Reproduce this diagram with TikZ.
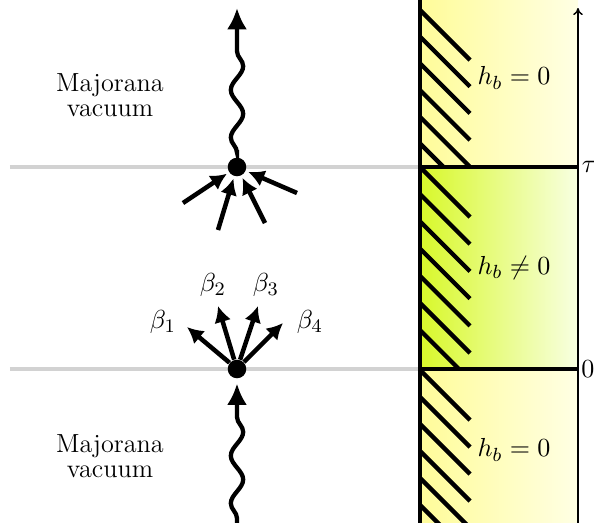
\documentclass[tikz,border=0pt]{standalone}
\usetikzlibrary{calc,arrows.meta,decorations.pathmorphing}
\usepackage{amsmath}
\definecolor{zeroleft}{HTML}{FFFC99}
\definecolor{zeroright}{HTML}{FFFFE4}
\definecolor{fieldleft}{HTML}{D8F82A}
\definecolor{fieldright}{HTML}{F8FFE2}

\begin{document}
\begin{tikzpicture}[x=0.42pt,y=-0.42pt,
  font=\fontsize{11pt}{10.5pt}\selectfont,
  wave/.style={line width=1.8pt, decorate,
    decoration={snake,amplitude=2.6pt,segment length=20pt,pre length=2pt,post length=9pt},
    -{Latex[length=9pt,width=8.5pt]}},
  leg/.style={line width=1.9pt, -{Latex[length=6.8pt,width=7.2pt]}},
  vertex/.style={circle, fill, inner sep=0pt, minimum size=7.8pt},
  timeline/.style={line width=1.3pt, gray!35},
  hatch/.style={line width=1.8pt},
]
  \useasboundingbox (0,0) rectangle (594,523);

  % time slices
  \draw[timeline] (10,167) -- (420,167);
  \draw[timeline] (10,369) -- (420,369);

  % boundary regions
  \shade[left color=zeroleft, right color=zeroright] (420,0) rectangle (578,167);
  \shade[left color=fieldleft, right color=fieldright] (420,167) rectangle (578,369);
  \shade[left color=zeroleft, right color=zeroright] (420,369) rectangle (578,523);

  % hatching
  \begin{scope}
    \clip (420,0) rectangle (578,167);
    \foreach \k in {0,...,5}
      \draw[hatch] (420,{10+26.7*\k}) -- ++(50,50);
  \end{scope}
  \begin{scope}
    \clip (420,167) rectangle (578,369);
    \foreach \k in {0,...,6}
      \draw[hatch] (420,{167+27.2*\k}) -- ++(50,50);
  \end{scope}
  \begin{scope}
    \clip (420,369) rectangle (578,523);
    \foreach \k in {0,...,5}
      \draw[hatch] (420,{370+27*\k}) -- ++(50,50);
  \end{scope}

  % wall and time axis
  \draw[line width=1.8pt] (420,0) -- (420,523);
  \draw[line width=1.5pt] (420,167) -- (578,167);
  \draw[line width=1.5pt] (420,369) -- (578,369);
  \draw[line width=0.6pt, -{To[length=3pt,width=4pt]}] (578,523) -- (578,8);
  \node (tau) at (589,167) {$\tau$};
  \node (zero) at (588,369) {$0$};

  \node (hTop) at (514,78) {$h_b = 0$};
  \node (hMid) at (514,268) {$h_b \neq 0$};
  \node (hBot) at (514,450) {$h_b = 0$};

  % vertices
  \node[vertex] (vT) at (237,167) {};
  \node[vertex] (vB) at (237,369) {};

  % incoming fermion
  \coordinate (inB) at (237,523);
  \draw[wave, shorten >=2pt] (inB) -- (vB);

  \coordinate (b1) at (187,327);
  \coordinate (b2) at (218,306);
  \coordinate (b3) at (258,306);
  \coordinate (b4) at (283,323);
  \foreach \b in {b1,b2,b3,b4}
    \draw[leg] (vB) -- (\b);
  \node (l1) at (163,322) {$\beta_1$};
  \node (l2) at (213,285) {$\beta_2$};
  \node (l3) at (266,285) {$\beta_3$};
  \node (l4) at (310,322) {$\beta_4$};

  % recombination at tau
  \coordinate (a1) at (183,203);
  \coordinate (a2) at (218,230);
  \coordinate (a3) at (265,223);
  \coordinate (a4) at (297,193);
  \foreach \a in {a1,a2,a3,a4}
    \draw[leg, shorten >=1pt] (\a) -- (vT);

  \coordinate (outT) at (237,8);
  \draw[wave, shorten <=3pt] (vT) -- (outT);

  \node[align=center] (vacT) at (110,95) {Majorana\\vacuum};
  \node[align=center] (vacB) at (110,456) {Majorana\\vacuum};
\end{tikzpicture}
\end{document}
